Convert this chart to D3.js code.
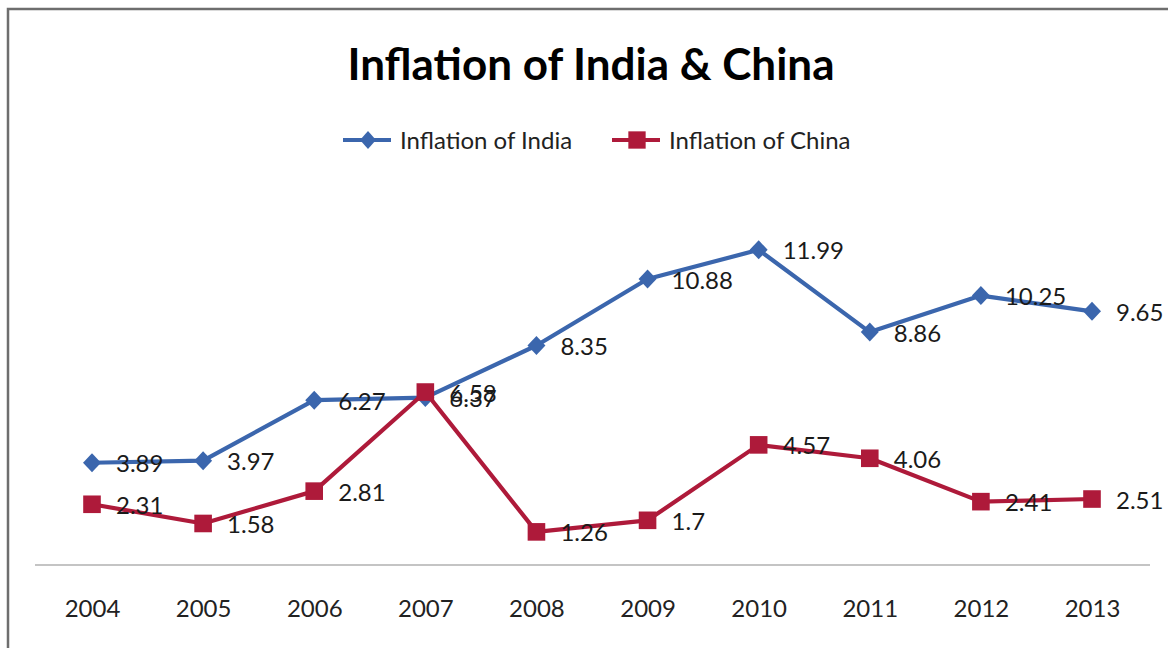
<!DOCTYPE html>
<html>
<head>
<meta charset="utf-8">
<script src="https://cdn.jsdelivr.net/npm/d3@7"></script>
<style>
  html, body { margin: 0; padding: 0; background: #fff; }
  svg { display: block; }
  text { font-family: Lato, "Open Sans", sans-serif; }
</style>
</head>
<body>
<svg id="chart" width="1168" height="648"></svg>
<script>
// Yearly inflation rates (%)
const years = ["2004", "2005", "2006", "2007", "2008", "2009", "2010", "2011", "2012", "2013"];
const india = [3.89, 3.97, 6.27, 6.37, 8.35, 10.88, 11.99, 8.86, 10.25, 9.65];
const china = [2.31, 1.58, 2.81, 6.58, 1.26, 1.7, 4.57, 4.06, 2.41, 2.51];
const seriesNames = ["Inflation of India", "Inflation of China"];

const W = 1168, H = 648;
const svg = d3.select("#chart");

const blue = "#3b66ad";
const red = "#ae1a3a";

// outer frame
svg.append("rect")
  .attr("x", 8).attr("y", 9)
  .attr("width", W + 20).attr("height", H + 20)
  .attr("fill", "#fff")
  .attr("stroke", "#6e6e6e").attr("stroke-width", 2.5);

const x = d3.scalePoint().domain(years).range([92, 1092]);
const y = d3.scaleLinear().domain([0, 14]).range([565, 197]);

// title
svg.append("text")
  .attr("x", 591).attr("y", 80)
  .attr("text-anchor", "middle")
  .attr("font-size", 44).attr("font-weight", 700)
  .attr("fill", "#000")
  .text("Inflation of India & China");

// category axis
const axis = d3.axisBottom(x).tickSize(0).tickPadding(35);
const gx = svg.append("g").attr("transform", `translate(0,${y(0)})`).call(axis);
gx.select(".domain").remove();
gx.append("line")
  .attr("x1", 35).attr("x2", 1150)
  .attr("stroke", "#8a8a8a").attr("stroke-width", 1.2);
gx.selectAll(".tick text")
  .attr("font-family", "Lato, sans-serif")
  .attr("font-size", 24).attr("fill", "#222");

const line = d3.line().x((d, i) => x(years[i])).y(d => y(d));

// rhombus marker, roughly as wide as it is tall
const diamondPath = (hw, hh) => `M0,${-hh}L${hw},0L0,${hh}L${-hw},0Z`;
const square = d3.symbol().type(d3.symbolSquare).size(310);

function drawSeries(values, color, markerD, cls) {
  const g = svg.append("g").attr("class", cls);
  g.append("path")
    .datum(values)
    .attr("d", line)
    .attr("fill", "none")
    .attr("stroke", color).attr("stroke-width", 4.2)
    .attr("stroke-linejoin", "round");
  g.selectAll("path.mk")
    .data(values)
    .join("path")
    .attr("class", "mk")
    .attr("d", markerD)
    .attr("transform", (d, i) => `translate(${x(years[i])},${y(d)})`)
    .attr("fill", color);
  return g;
}

drawSeries(india, blue, diamondPath(9, 9.5), "india");
drawSeries(china, red, square, "china");

// value labels to the right of each point
function labels(values, cls) {
  svg.append("g").attr("class", cls + "-labels")
    .selectAll("text")
    .data(values)
    .join("text")
    .attr("x", (d, i) => x(years[i]) + 24)
    .attr("y", d => y(d) + 9.5)
    .attr("font-size", 24)
    .attr("fill", "#1a1a1a")
    .text(d => d);
}
labels(india, "india");
labels(china, "china");

// legend
const legend = svg.append("g");
const items = [
  { name: seriesNames[0], color: blue, d: diamondPath(8, 9), x0: 343 },
  { name: seriesNames[1], color: red, d: d3.symbol().type(d3.symbolSquare).size(300)(), x0: 612 }
];
items.forEach(it => {
  legend.append("line")
    .attr("x1", it.x0).attr("x2", it.x0 + 48)
    .attr("y1", 140).attr("y2", 140)
    .attr("stroke", it.color).attr("stroke-width", 4.2);
  legend.append("path")
    .attr("d", it.d)
    .attr("transform", `translate(${it.x0 + 25},140)`)
    .attr("fill", it.color);
  legend.append("text")
    .attr("x", it.x0 + 57).attr("y", 148.5)
    .attr("font-size", 24).attr("fill", "#222")
    .text(it.name);
});
</script>
</body>
</html>
